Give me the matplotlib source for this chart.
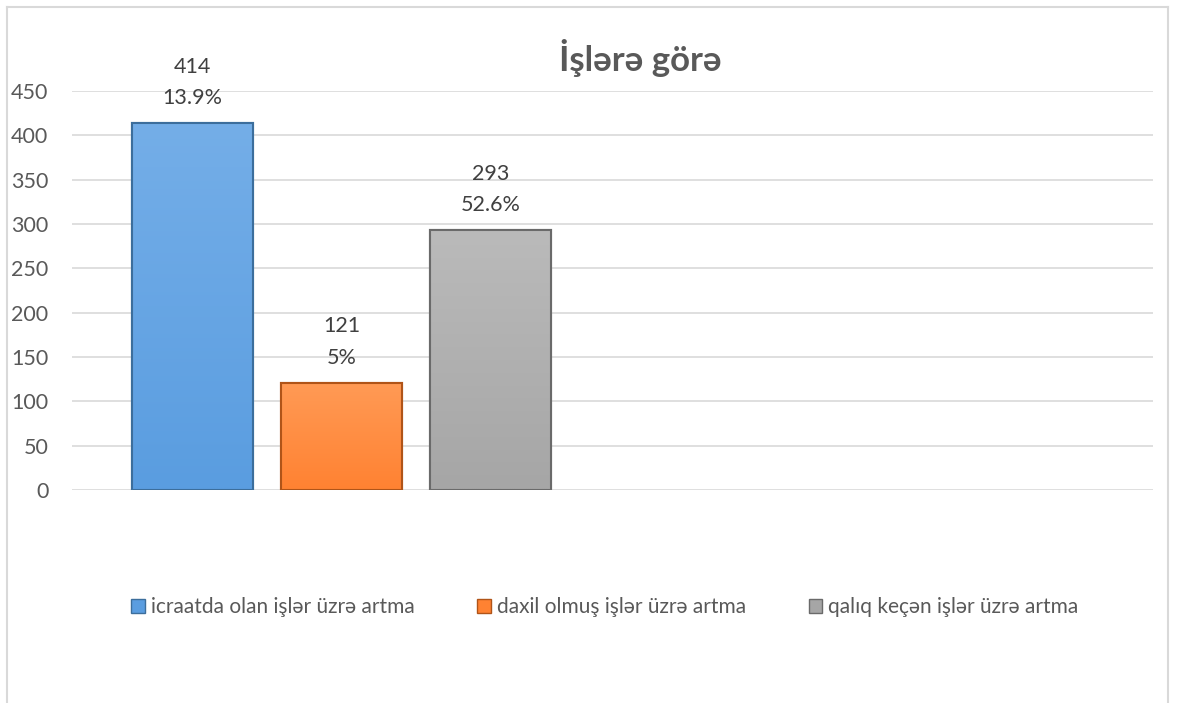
import numpy as np
import matplotlib.pyplot as plt
from matplotlib.lines import Line2D
from matplotlib.patches import Rectangle
from matplotlib.colors import to_rgb

series = ["icraatda olan işlər üzrə artma", "daxil olmuş işlər üzrə artma", "qalıq keçən işlər üzrə artma"]
values = [414, 121, 293]
percents = ["13.9%", "5%", "52.6%"]
colors = ["#5A9DE0", "#FF8232", "#A6A6A6"]
tops = ["#74AEE8", "#FF9A55", "#BABABA"]
edges = ["#3C6E9C", "#B05418", "#6A6A6A"]
yticks = [0, 50, 100, 150, 200, 250, 300, 350, 400, 450]

plt.rcParams['font.family'] = ['Lato', 'DejaVu Sans']
text_col = "#595959"

fig = plt.figure(figsize=(11.77, 7.03), dpi=100)
W, H = 1177, 703
ax = fig.add_axes([72 / W, 1 - 490 / H, (1153 - 72) / W, (490 - 91) / H])

x = list(range(len(values)))
bw = 0.81
bars = ax.bar(x, values, width=bw, color=colors, edgecolor=edges, linewidth=1.5, zorder=3)
# soft vertical gradient inside each bar
for b, c_top, c_bot in zip(bars, tops, colors):
    t, bo = np.array(to_rgb(c_top)), np.array(to_rgb(c_bot))
    k = np.linspace(0, 1, 64)[:, None]
    grad = (t * (1 - k) + bo * k)[:, None, :]
    x0, w, h = b.get_x(), b.get_width(), b.get_height()
    im = ax.imshow(grad, extent=(x0, x0 + w, 0, h), aspect="auto", origin="upper",
                   zorder=3.5, interpolation="bilinear")
    im.set_clip_path(b)
    ax.add_patch(Rectangle((x0, 0), w, h, fill=False, edgecolor=b.get_edgecolor(),
                           linewidth=1.5, zorder=4))

for xi, v, p in zip(x, values, percents):
    ax.text(xi, v + 17, f"{v}\n{p}", ha="center", va="bottom", fontsize=15.5,
            color="#404040", linespacing=1.7, zorder=5)

ax.set_xlim(-0.809, 6.446)
ax.set_ylim(0, 450)
ax.set_yticks(yticks)
ax.set_xticks([])
ax.yaxis.grid(True, color="#D9D9D9", linewidth=1.2, zorder=0)
ax.tick_params(axis="y", length=0, pad=17, labelsize=15.5, labelcolor=text_col)
for s in ax.spines.values():
    s.set_visible(False)

fig.text(640 / W, 1 - 58 / H, "İşlərə görə", ha="center", va="center",
         fontsize=25, fontweight="bold", color=text_col)

handles = [Rectangle((0, 0), 1, 1, facecolor=c, edgecolor=e) for c, e in zip(colors, edges)]
fig.legend(handles, series, loc="center", bbox_to_anchor=(605 / W, 1 - 607 / H),
           ncol=3, frameon=False, fontsize=15, labelcolor=text_col,
           handlelength=0.65, handleheight=0.65, handletextpad=0.3, columnspacing=3.0)

# chart border (bottom edge cut off)
bc = "#D9D9D9"
fig.add_artist(Line2D([7 / W, 7 / W], [0, 1 - 7 / H], color=bc, lw=1.5))
fig.add_artist(Line2D([7 / W, 1168 / W], [1 - 7 / H, 1 - 7 / H], color=bc, lw=1.5))
fig.add_artist(Line2D([1168 / W, 1168 / W], [0, 1 - 7 / H], color=bc, lw=1.5))

fig.savefig("out.png", dpi=100)
